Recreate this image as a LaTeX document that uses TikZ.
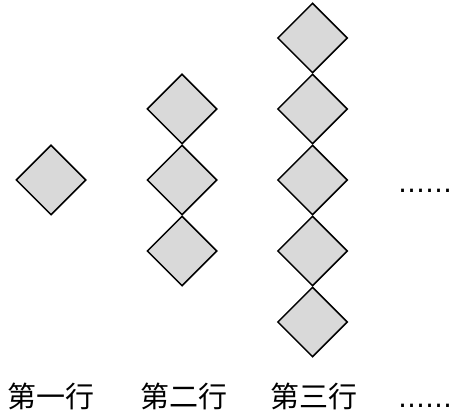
\documentclass[tikz,border=0pt]{standalone}
\usepackage{fontspec}
\newfontfamily\cjk{Noto Sans CJK SC}
\newfontfamily\dotfont{DejaVu Sans}
\usetikzlibrary{shapes.geometric}
\definecolor{dfill}{RGB}{217,217,217}
\begin{document}
\begin{tikzpicture}[x=1pt,y=-1pt,
  dia/.style={diamond, draw=black, fill=dfill, line width=1.5pt, minimum width=70pt, minimum height=70pt, inner sep=0pt},
  lbl/.style={font=\cjk\fontsize{29}{29}\selectfont, inner sep=0pt, anchor=base},
  dotstyle/.style={font=\dotfont\fontsize{27}{27}\selectfont, inner sep=0pt, anchor=base}]
\useasboundingbox (0,0) rectangle (461,417);
% column 1
\node[dia] (a1) at (51,180) {};
% column 2
\node[dia] (b1) at (182,109) {};
\node[dia] (b2) at (182,180) {};
\node[dia] (b3) at (182,251) {};
% column 3
\node[dia] (c1) at (312.5,38) {};
\node[dia] (c2) at (312.5,109) {};
\node[dia] (c3) at (312.5,180) {};
\node[dia] (c4) at (312.5,251) {};
\node[dia] (c5) at (312.5,322) {};
% dots
\node[dotstyle] (d1) at (425,193) {……};
% labels
\node[lbl] (l1) at (51.5,407) {第一行};
\node[lbl] (l2) at (184,407) {第二行};
\node[lbl] (l3) at (314,407) {第三行};
\node[dotstyle] (d2) at (425,407) {……};
\end{tikzpicture}
\end{document}
